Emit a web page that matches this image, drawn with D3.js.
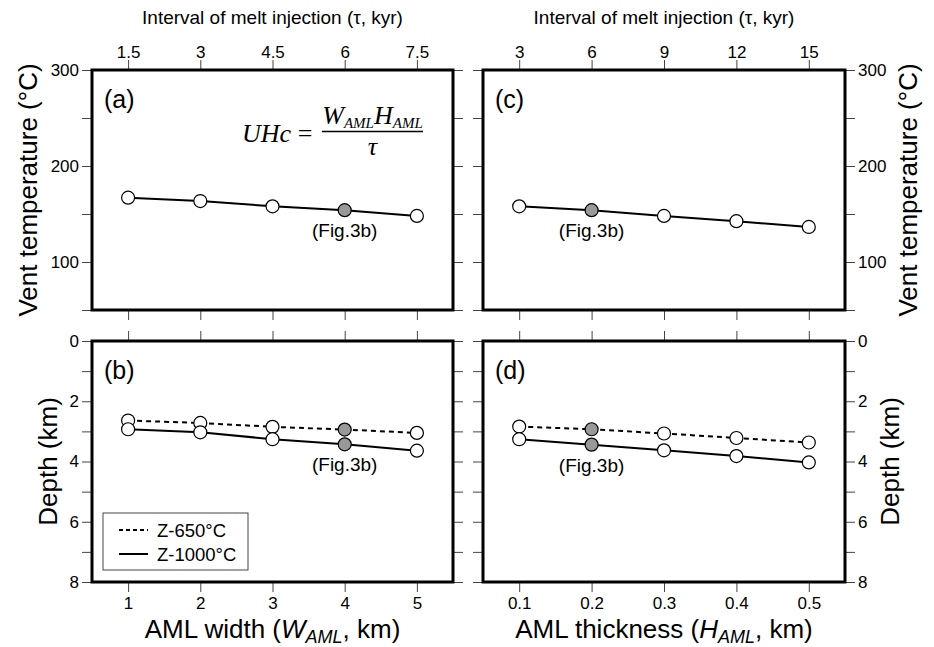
<!DOCTYPE html>
<html>
<head>
<meta charset="utf-8">
<script src="https://cdn.jsdelivr.net/npm/d3@7"></script>
<style>
  body { margin: 0; background: #fff; }
</style>
</head>
<body>
<div id="myVis"></div>
<script>

// data
const widthKm = [1, 2, 3, 4, 5]
const thickKm = [0.1, 0.2, 0.3, 0.4, 0.5]
const tauForWidth = [1.5, 3, 4.5, 6, 7.5]
const tauForThick = [3, 6, 9, 12, 15]

const ventTempWidth = [167, 163.5, 158, 154, 148]
const ventTempThick = [158, 154, 148, 142.5, 136.5]

const z650Width = [2.64, 2.72, 2.85, 2.94, 3.05]
const z1000Width = [2.93, 3.03, 3.26, 3.43, 3.64]
const z650Thick = [2.84, 2.93, 3.07, 3.22, 3.37]
const z1000Thick = [3.26, 3.44, 3.63, 3.82, 4.03]

const refWidth = 4      // the (Fig.3b) case
const refThick = 0.2

const tempTicks = [50, 100, 150, 200, 250, 300]
const tempLabels = [100, 200, 300]
const depthTicks = [0, 1, 2, 3, 4, 5, 6, 7, 8]
const depthLabels = [0, 2, 4, 6, 8]

const legendNames = ["Z-650°C", "Z-1000°C"]


var width = 934, height = 647
const sans = "Liberation Sans, Arial, Helvetica, sans-serif"
const serif = "Liberation Serif, Times New Roman, serif"

const svg = d3.select("#myVis")
    .append("svg")
        .attr("width", width)
        .attr("height", height)
        .style("font-family", sans)

svg.append("rect").attr("width", width).attr("height", height).attr("fill", "white")

// panel boxes
const colL = [92, 453], colR = [483, 845]
const rowT = [70, 310], rowB = [341, 582]

var xW = d3.scaleLinear().domain([0.5, 5.5]).range(colL)
var xTauW = d3.scaleLinear().domain([0.75, 8.25]).range(colL)
var xH = d3.scaleLinear().domain([0.05, 0.55]).range(colR)
var xTauH = d3.scaleLinear().domain([1.5, 16.5]).range(colR)

var yTempT = d3.scaleLinear().domain([50, 300]).range([rowT[1], rowT[0]])
var yDepthB = d3.scaleLinear().domain([0, 8]).range(rowB)

const TICK = 10

function fmt(list) {
    return d => list.indexOf(d) >= 0 ? String(d) : ""
}

// draws ticks on all four sides of a panel
function frameAxes(x, y, xVals, yVals, o) {
    const g = svg.append("g")
    const [x0, x1] = x.range()
    const [yb, yt] = [d3.max(y.range()), d3.min(y.range())]

    const top = o.topAxis || d3.axisTop(x).tickValues(xVals).tickFormat("")
    g.append("g").attr("transform", "translate(0," + yt + ")")
        .call(top.tickSize(TICK).tickPadding(2))

    g.append("g").attr("transform", "translate(0," + yb + ")")
        .call(d3.axisBottom(x).tickValues(xVals).tickSize(TICK).tickPadding(5)
            .tickFormat(o.bottomLabels ? d => String(d) : ""))

    g.append("g").attr("transform", "translate(" + x0 + ",0)")
        .call(d3.axisLeft(y).tickValues(yVals).tickSize(TICK).tickPadding(3)
            .tickFormat(o.leftLabels ? fmt(o.leftLabels) : ""))

    g.append("g").attr("transform", "translate(" + x1 + ",0)")
        .call(d3.axisRight(y).tickValues(yVals).tickSize(TICK).tickPadding(3)
            .tickFormat(o.rightLabels ? fmt(o.rightLabels) : ""))

    g.selectAll(".domain").remove()
    g.selectAll("g").attr("font-family", sans)
    g.selectAll(".tick line").attr("stroke", "#444").attr("stroke-width", 1)
    g.selectAll(".tick text").attr("font-size", 17).attr("fill", "black")

    return g
}

function frame(x, y) {
    const [x0, x1] = x.range()
    const yy = y.range()
    svg.append("rect")
        .attr("x", x0).attr("y", d3.min(yy))
        .attr("width", x1 - x0).attr("height", Math.abs(yy[1] - yy[0]))
        .attr("fill", "none").attr("stroke", "black").attr("stroke-width", 3)
}

function series(x, xs, y, ys, refX, dashed) {
    const pts = xs.map((d, i) => ({x: d, y: ys[i]}))
    const line = d3.line().x(d => x(d.x)).y(d => y(d.y))
    svg.append("path")
        .datum(pts)
        .attr("d", line)
        .attr("fill", "none")
        .attr("stroke", "black")
        .attr("stroke-width", 2)
        .attr("stroke-dasharray", dashed ? "5,4" : null)
    svg.append("g").selectAll("circle")
        .data(pts)
        .enter()
        .append("circle")
            .attr("cx", d => x(d.x))
            .attr("cy", d => y(d.y))
            .attr("r", 6.5)
            .attr("fill", d => d.x === refX ? "#999" : "white")
            .attr("stroke", "black")
            .attr("stroke-width", 1.2)
}

function label(x, y, txt, size, anchor) {
    return svg.append("text")
        .attr("x", x).attr("y", y)
        .attr("font-size", size)
        .attr("text-anchor", anchor || "start")
        .text(txt)
}

// ---- panel (a)
frameAxes(xW, yTempT, widthKm, tempTicks, {
    topAxis: d3.axisTop(xTauW).tickValues(tauForWidth).tickFormat(d => String(d)),
    leftLabels: tempLabels
})
series(xW, widthKm, yTempT, ventTempWidth, refWidth, false)
frame(xW, yTempT)

// ---- panel (c)
frameAxes(xH, yTempT, thickKm, tempTicks, {
    topAxis: d3.axisTop(xTauH).tickValues(tauForThick).tickFormat(d => String(d)),
    rightLabels: tempLabels
})
series(xH, thickKm, yTempT, ventTempThick, refThick, false)
frame(xH, yTempT)

// ---- panel (b)
frameAxes(xW, yDepthB, widthKm, depthTicks, {bottomLabels: true, leftLabels: depthLabels})
series(xW, widthKm, yDepthB, z650Width, refWidth, true)
series(xW, widthKm, yDepthB, z1000Width, refWidth, false)
frame(xW, yDepthB)

// ---- panel (d)
frameAxes(xH, yDepthB, thickKm, depthTicks, {bottomLabels: true, rightLabels: depthLabels})
series(xH, thickKm, yDepthB, z650Thick, refThick, true)
series(xH, thickKm, yDepthB, z1000Thick, refThick, false)
frame(xH, yDepthB)

// panel letters
label(colL[0] + 12, rowT[0] + 38, "(a)", 25)
label(colR[0] + 12, rowT[0] + 38, "(c)", 25)
label(colL[0] + 12, rowB[0] + 38, "(b)", 25)
label(colR[0] + 12, rowB[0] + 38, "(d)", 25)

// (Fig.3b) notes under the reference points
label(xW(refWidth), yTempT(ventTempWidth[3]) + 27, "(Fig.3b)", 19, "middle")
label(xH(refThick), yTempT(ventTempThick[1]) + 27, "(Fig.3b)", 19, "middle")
label(xW(refWidth), yDepthB(z1000Width[3]) + 27, "(Fig.3b)", 19, "middle")
label(xH(refThick), yDepthB(z1000Thick[1]) + 27, "(Fig.3b)", 19, "middle")

// top titles
label(d3.mean(colL), 24, "Interval of melt injection (τ, kyr)", 19, "middle")
label(d3.mean(colR), 24, "Interval of melt injection (τ, kyr)", 19, "middle")

// bottom titles
var bt1 = label(d3.mean(colL), 638, "AML width (", 26, "middle")
bt1.append("tspan").attr("font-style", "italic").text("W")
bt1.append("tspan").attr("font-style", "italic").attr("font-size", 18).attr("dy", 5).text("AML")
bt1.append("tspan").attr("dy", -5).text(", km)")

var bt2 = label(d3.mean(colR), 638, "AML thickness (", 26, "middle")
bt2.append("tspan").attr("font-style", "italic").text("H")
bt2.append("tspan").attr("font-style", "italic").attr("font-size", 18).attr("dy", 5).text("AML")
bt2.append("tspan").attr("dy", -5).text(", km)")

// y titles (all read bottom-to-top)
function yTitle(x, y, txt) {
    svg.append("text")
        .attr("transform", "translate(" + x + "," + y + ") rotate(-90)")
        .attr("text-anchor", "middle")
        .attr("font-size", 26)
        .text(txt)
}
yTitle(37, d3.mean(rowT), "Vent temperature (°C)")
yTitle(917, d3.mean(rowT), "Vent temperature (°C)")
yTitle(57, d3.mean(rowB), "Depth (km)")
yTitle(899, d3.mean(rowB), "Depth (km)")

// formula in panel (a)
svg.append("text").attr("x", 242).attr("y", 141.5)
    .style("font-family", serif).attr("font-style", "italic").attr("font-size", 26)
    .text("UHc")
svg.append("text").attr("x", 305).attr("y", 141.5).attr("text-anchor", "middle")
    .style("font-family", serif).attr("font-size", 26)
    .text("=")
svg.append("line").attr("x1", 322).attr("x2", 423).attr("y1", 131.5).attr("y2", 131.5)
    .attr("stroke", "black").attr("stroke-width", 1.3)
var num = svg.append("text").attr("x", 372.5).attr("y", 124).attr("text-anchor", "middle")
    .style("font-family", serif).attr("font-style", "italic").attr("font-size", 26)
num.append("tspan").text("W")
num.append("tspan").attr("font-size", 15).attr("dy", 4).text("AML")
num.append("tspan").attr("dy", -4).text("H")
num.append("tspan").attr("font-size", 15).attr("dy", 4).text("AML")
svg.append("text").attr("x", 372.5).attr("y", 155).attr("text-anchor", "middle")
    .style("font-family", serif).attr("font-style", "italic").attr("font-size", 26)
    .text("τ")

// legend in panel (b)
const leg = svg.append("g")
leg.append("rect")
    .attr("x", 103).attr("y", 513).attr("width", 145).attr("height", 57)
    .attr("fill", "white").attr("stroke", "#444").attr("stroke-width", 1)
legendNames.forEach((n, i) => {
    const yy = 530 + i * 24
    leg.append("line")
        .attr("x1", 119).attr("x2", 148).attr("y1", yy).attr("y2", yy)
        .attr("stroke", "black").attr("stroke-width", 2)
        .attr("stroke-dasharray", i === 0 ? "4,3" : null)
    leg.append("text")
        .attr("x", 157).attr("y", yy + 6.5)
        .attr("font-size", 18.5)
        .text(n)
})

</script>
</body>
</html>
